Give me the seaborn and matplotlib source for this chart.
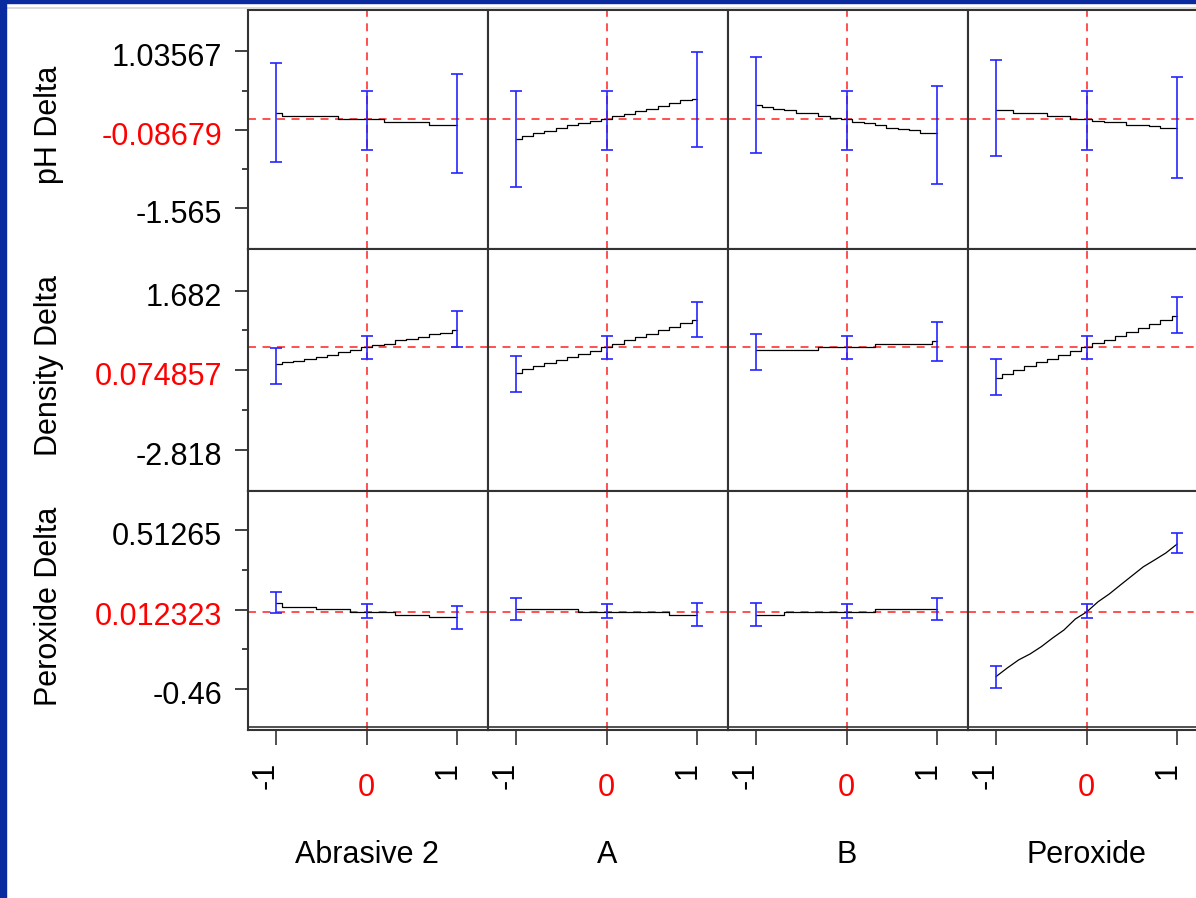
import matplotlib
matplotlib.use("Agg")
import matplotlib.pyplot as plt
import matplotlib.transforms as mtransforms
from matplotlib.lines import Line2D
from matplotlib.patches import Rectangle
import numpy as np
import pandas as pd
import seaborn as sns

sns.set_theme(style="white")
plt.rcParams['font.family'] = ['Liberation Sans', 'DejaVu Sans']

# ---------------- data ----------------
FACTORS = ["Abrasive 2", "A", "B", "Peroxide"]
RESPONSES = ["pH Delta", "Density Delta", "Peroxide Delta"]
CURRENT = [-0.08679, 0.074857, 0.012323]
CURRENT_TEXT = ["-0.08679", "0.074857", "0.012323"]
TICK_TOP = [1.03567, 1.682, 0.51265]
TICK_TOP_TEXT = ["1.03567", "1.682", "0.51265"]
TICK_BOTTOM = [-1.565, -2.818, -0.46]
TICK_BOTTOM_TEXT = ["-1.565", "-2.818", "-0.46"]
YLIMS = [(-2.233, 1.728), (-3.992, 2.871), (-0.710, 0.752)]

X_LEVELS = [-1, 0, 1]
X_LEVEL_TEXT = ["-1", "0", "1"]
GRID_X = [-1.0, -0.875, -0.75, -0.625, -0.5, -0.375, -0.25, -0.125, 0.0,
          0.125, 0.25, 0.375, 0.5, 0.625, 0.75, 0.875, 1.0]

# prediction traces (one list per factor)
PH_TRACE = [
    [0.008, -0.037, -0.037, -0.037, -0.037, -0.037, -0.087, -0.087, -0.087,
     -0.087, -0.136, -0.136, -0.136, -0.136, -0.186, -0.186, -0.186],
    [-0.418, -0.368, -0.324, -0.281, -0.236, -0.191, -0.148, -0.115, -0.087,
     -0.042, 0.001, 0.046, 0.084, 0.129, 0.178, 0.228, 0.240],
    [0.145, 0.107, 0.084, 0.057, 0.008, 0.008, -0.042, -0.070, -0.087,
     -0.137, -0.158, -0.181, -0.231, -0.252, -0.274, -0.324, -0.324],
    [0.057, 0.057, 0.008, 0.008, 0.008, -0.042, -0.042, -0.087, -0.087,
     -0.115, -0.137, -0.137, -0.181, -0.181, -0.203, -0.231, -0.231],
]
DENSITY_TRACE = [
    [-0.406, -0.350, -0.304, -0.256, -0.191, -0.135, -0.067, -0.001, 0.075,
     0.132, 0.177, 0.282, 0.318, 0.375, 0.443, 0.488, 0.564],
    [-0.644, -0.553, -0.463, -0.375, -0.285, -0.194, -0.106, -0.016, 0.075,
     0.171, 0.270, 0.366, 0.465, 0.564, 0.661, 0.759, 0.856],
    [-0.001, -0.001, -0.001, -0.001, -0.001, -0.001, 0.075, 0.075, 0.075,
     0.075, 0.075, 0.160, 0.160, 0.160, 0.160, 0.160, 0.245],
    [-0.786, -0.679, -0.571, -0.463, -0.355, -0.248, -0.140, -0.033, 0.075,
     0.183, 0.293, 0.403, 0.514, 0.621, 0.731, 0.842, 0.952],
]
PEROXIDE_TRACE = [
    [0.067, 0.045, 0.045, 0.045, 0.031, 0.031, 0.031, 0.012, 0.012,
     0.012, 0.012, -0.006, -0.006, -0.006, -0.020, -0.020, -0.020],
    [0.031, 0.031, 0.031, 0.031, 0.031, 0.031, 0.012, 0.012, 0.012,
     0.012, 0.012, 0.012, 0.012, 0.012, -0.006, -0.006, -0.006],
    [-0.006, -0.006, -0.006, 0.012, 0.012, 0.012, 0.012, 0.012, 0.012,
     0.012, 0.012, 0.031, 0.031, 0.031, 0.031, 0.031, 0.031],
    [-0.383, -0.330, -0.281, -0.245, -0.200, -0.147, -0.098, -0.031, 0.012,
     0.074, 0.122, 0.178, 0.233, 0.288, 0.330, 0.373, 0.428],
]

# confidence intervals at x = -1, 0, 1 (one list per factor)
PH_CI_LO = [[-0.794, -0.600, -0.977], [-1.213, -0.600, -0.551],
            [-0.650, -0.600, -1.159], [-0.695, -0.600, -1.069]]
PH_CI_HI = [[0.846, 0.382, 0.659], [0.382, 0.382, 1.028],
            [0.936, 0.382, 0.465], [0.891, 0.382, 0.609]]
DENSITY_CI_LO = [[-0.964, -0.248, 0.075], [-1.199, -0.248, 0.375],
                 [-0.559, -0.248, -0.321], [-1.275, -0.248, 0.471]]
DENSITY_CI_HI = [[0.064, 0.386, 1.111], [-0.163, 0.386, 1.348],
                 [0.460, 0.386, 0.799], [-0.248, 0.386, 1.507]]
PEROXIDE_CI_LO = [[0.004, -0.023, -0.092], [-0.038, -0.023, -0.073],
                  [-0.073, -0.023, -0.038], [-0.454, -0.023, 0.373]]
PEROXIDE_CI_HI = [[0.133, 0.063, 0.047], [0.100, 0.063, 0.066],
                  [0.066, 0.063, 0.100], [-0.316, 0.063, 0.494]]

TRACES = [PH_TRACE, DENSITY_TRACE, PEROXIDE_TRACE]
CI_LO = [PH_CI_LO, DENSITY_CI_LO, PEROXIDE_CI_LO]
CI_HI = [PH_CI_HI, DENSITY_CI_HI, PEROXIDE_CI_HI]

rows = []
for i, resp in enumerate(RESPONSES):
    for j, fac in enumerate(FACTORS):
        for x, y in zip(GRID_X, TRACES[i][j]):
            rows.append({"response": resp, "factor": fac, "x": x, "y": y})
df = pd.DataFrame(rows)

# ---------------- layout ----------------
W, H = 1196, 898
fig = plt.figure(figsize=(W / 100, H / 100), dpi=100)
fig.patch.set_facecolor("white")


def frac(x0, y0, x1, y1):
    return [x0 / W, 1 - y1 / H, (x1 - x0) / W, (y1 - y0) / H]


ROW_PX = [(9.5, 248.5), (248.5, 491), (491, 730)]
COL_PX = [(248, 488), (488, 728), (728, 968), (968, 1208)]
XLIM = (-1.31, 1.34)
FS = 22
SPINE = "#333333"
RED = "#ff2020"
BLUE = "#2525ff"

for i, resp in enumerate(RESPONSES):
    for j, fac in enumerate(FACTORS):
        ax = fig.add_axes(frac(COL_PX[j][0], ROW_PX[i][0], COL_PX[j][1], ROW_PX[i][1]))
        ax.set_facecolor("white")
        sub = df[(df["response"] == resp) & (df["factor"] == fac)]
        ax.axvline(0, color=RED, lw=1.1, dashes=(5.2, 4.3), zorder=1)
        ax.axhline(CURRENT[i], color=RED, lw=1.1, dashes=(5.2, 4.3), zorder=1)
        # steep trace drawn as a continuous line, the others as small stairs
        steep = (i, j) == (2, 3)
        sns.lineplot(data=sub, x="x", y="y", ax=ax, color="black", lw=0.9,
                     drawstyle="default" if steep else "steps-mid",
                     estimator=None, sort=False, legend=False, zorder=2)
        lo = np.array(CI_LO[i][j])
        hi = np.array(CI_HI[i][j])
        ax.errorbar(X_LEVELS, (lo + hi) / 2, yerr=(hi - lo) / 2, fmt="none",
                    ecolor=BLUE, elinewidth=1.2, capsize=4.3, capthick=1.2,
                    zorder=3)
        ax.set_xlim(*XLIM)
        ax.set_ylim(*YLIMS[i])
        ax.set_xlabel("")
        ax.set_ylabel("")
        for s in ax.spines.values():
            s.set_color(SPINE)
            s.set_linewidth(1.5)
        # y ticks
        mid = (TICK_TOP[i] + TICK_BOTTOM[i]) / 2
        if j == 0:
            ax.set_yticks([TICK_TOP[i], mid, TICK_BOTTOM[i]])
            ax.set_yticks([(TICK_TOP[i] + mid) / 2, (mid + TICK_BOTTOM[i]) / 2],
                          minor=True)
            ax.set_yticklabels([])
            ax.tick_params(axis="y", which="major", left=True, length=9.4,
                           width=1.3, color=SPINE, direction="out")
            ax.tick_params(axis="y", which="minor", left=True, length=4.3,
                           width=1.3, color=SPINE, direction="out")
            off = mtransforms.offset_copy(ax.get_yaxis_transform(), fig=fig,
                                          x=-26, y=-7, units="dots")
            for val, txt, col in zip([TICK_TOP[i], mid, TICK_BOTTOM[i]],
                                     [TICK_TOP_TEXT[i], CURRENT_TEXT[i], TICK_BOTTOM_TEXT[i]],
                                     ["black", "#ff0000", "black"]):
                ax.text(0, val, txt, transform=off, ha="right", va="center",
                        fontsize=FS, color=col)
        else:
            ax.set_yticks([])
        # x ticks
        if i == len(RESPONSES) - 1:
            ax.set_xticks(X_LEVELS)
            ax.set_xticklabels([])
            ax.tick_params(axis="x", which="major", bottom=True, length=10.8,
                           width=1.2, color=SPINE, direction="out")
            for x, txt in zip(X_LEVELS, X_LEVEL_TEXT):
                if x == 0:
                    off = mtransforms.offset_copy(ax.get_xaxis_transform(), fig=fig,
                                                  x=0, y=-58, units="dots")
                    ax.text(x, 0, txt, transform=off, ha="center", va="center",
                            fontsize=FS, color="#ff0000")
                else:
                    off = mtransforms.offset_copy(ax.get_xaxis_transform(), fig=fig,
                                                  x=-10, y=-32, units="dots")
                    ax.text(x, 0, txt, transform=off, ha="center", va="top",
                            rotation=90, fontsize=FS, color="black")
            off = mtransforms.offset_copy(ax.get_xaxis_transform(), fig=fig,
                                          x=0, y=-125, units="dots")
            ax.text(0, 0, fac, transform=off, ha="center", va="center",
                    fontsize=FS, color="black")
        else:
            ax.set_xticks([])

# response labels
for i, resp in enumerate(RESPONSES):
    yc = (ROW_PX[i][0] + ROW_PX[i][1]) / 2 - 4
    fig.text(49 / W, 1 - yc / H, resp, rotation=90, ha="center", va="center",
             fontsize=FS, color="black")

# double line under the panels
fig.lines.append(Line2D([248 / W, 1], [1 - 727 / H] * 2, transform=fig.transFigure,
                        color=SPINE, lw=1.2))
# slide frame
fig.patches.append(Rectangle((0, 0), 6 / W, 1, transform=fig.transFigure,
                             color="#0a2aa0", zorder=10))
fig.patches.append(Rectangle((0, 1 - 3.3 / H), 1, 3.3 / H, transform=fig.transFigure,
                             color="#0a2aa0", zorder=10))
fig.lines.append(Line2D([6 / W, 1], [1 - 7.5 / H] * 2, transform=fig.transFigure,
                        color="#d4d4d4", lw=1.2))

fig.savefig("out.png", dpi=100, facecolor="white")
